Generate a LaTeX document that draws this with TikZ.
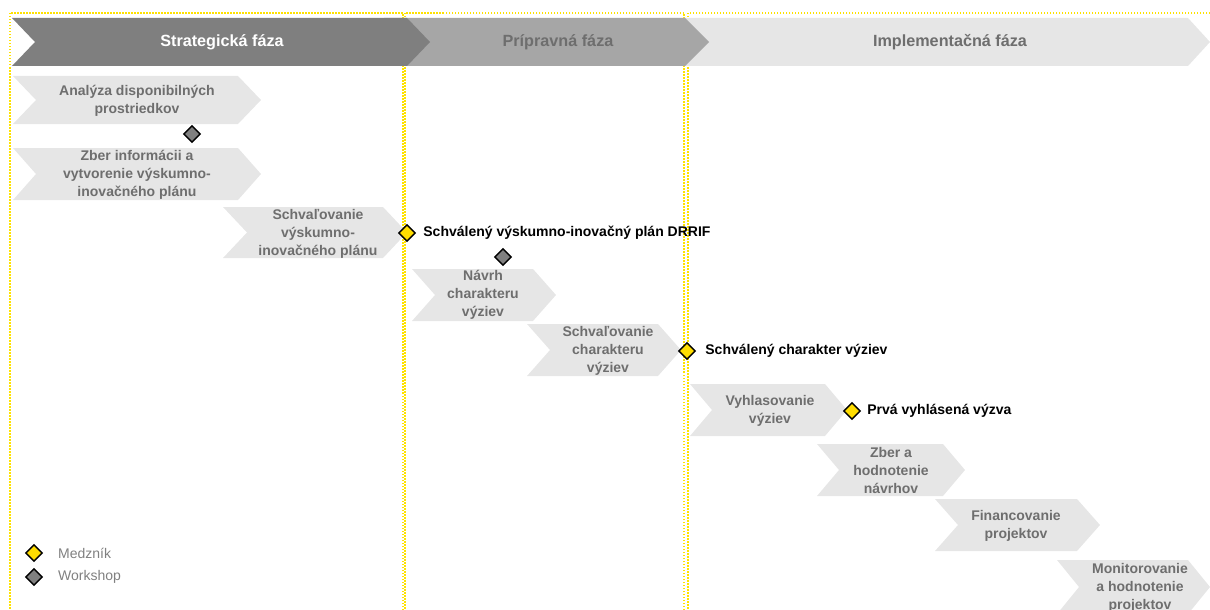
\documentclass[tikz,border=0pt]{standalone}
\usepackage{fontspec}
\setmainfont{Liberation Sans}
\usepackage{tikz}
\usetikzlibrary{shapes.geometric, positioning}
\usepackage{xcolor}
\definecolor{phasedark}{RGB}{127, 127, 127}
\definecolor{phasemid}{RGB}{166, 166, 166}
\definecolor{phaselight}{RGB}{230, 230, 230}
\definecolor{tasktext}{RGB}{110, 110, 110}
\definecolor{framegold}{RGB}{255, 226, 0}
\definecolor{milestoneyellow}{RGB}{255, 221, 0}
\definecolor{workshopgray}{RGB}{128, 128, 128}
\definecolor{legendtext}{RGB}{128, 128, 128}

% chevron: left, top, body right, bottom, tip depth, fill colour
\newcommand{\chevron}[6]{%
  \fill[#6] (#1,#2) -- (#3,#2) -- ({#3+#5},{(#2+#4)/2}) -- (#3,#4) -- (#1,#4) -- ({#1+#5},{(#2+#4)/2}) -- cycle;}

\begin{document}
\begin{tikzpicture}[x=1pt, y=-1pt,
  phase/.style={font=\fontsize{16.2}{19}\selectfont\bfseries, inner sep=0},
  task/.style={font=\fontsize{14}{18}\selectfont\bfseries, text=tasktext, align=center, inner sep=0},
  milestone/.style={diamond, draw=black, line width=1.4pt, fill=milestoneyellow, minimum width=17pt, minimum height=17pt, inner sep=0},
  workshop/.style={milestone, fill=workshopgray},
  mlabel/.style={font=\fontsize{14}{16}\selectfont\bfseries, anchor=west, inner sep=0},
  legend/.style={font=\fontsize{14}{16}\selectfont, text=legendtext, anchor=west, inner sep=0},
  frame/.style={framegold, line width=1.5pt, dash pattern=on 1.5pt off 1.5pt}]

  \useasboundingbox (0,0) rectangle (1210,610);

  % Phase frames
  \draw[frame] (10,13) rectangle (403,625);
  \draw[frame] (405,13) rectangle (684,625);
  \draw[frame] (688,13) rectangle (1225,625);

  % Phase chevrons
  \chevron{662}{18}{1188}{66}{22}{phaselight}
  \chevron{384}{18}{685}{66}{24}{phasemid}
  \chevron{12}{18}{407}{66}{23}{phasedark}
  \node[phase, text=white] (strat) at (222,42) {Strategická fáza};
  \node[phase, text=tasktext] (prip) at (558,42) {Prípravná fáza};
  \node[phase, text=tasktext] (impl) at (950,42) {Implementačná fáza};

  % Strategic phase tasks
  \chevron{13}{76}{238}{124}{23}{phaselight}
  \node[task] (analyza) at (137,101) {Analýza disponibilných\\prostriedkov};
  \node[workshop] (w1) at (192,134) {};
  \chevron{13}{148}{238}{200}{23}{phaselight}
  \node[task] (zber) at (137,175) {Zber informácii a\\vytvorenie výskumno-\\inovačného plánu};
  \chevron{223}{207}{383}{258}{24}{phaselight}
  \node[task] (schvPlan) at (318,234) {Schvaľovanie\\výskumno-\\inovačného plánu};
  \node[milestone] (mPlan) at (407,233) {};
  \node[mlabel, right=7pt of mPlan] (lPlan) {Schválený výskumno-inovačný plán DRRIF};

  % Preparation phase tasks
  \node[workshop] (w2) at (503,257) {};
  \chevron{412}{269}{533}{321}{23}{phaselight}
  \node[task] (navrh) at (483,295) {Návrh\\charakteru\\výziev};
  \chevron{527}{324}{658}{376}{23}{phaselight}
  \node[task] (schvChar) at (608,351) {Schvaľovanie\\charakteru\\výziev};
  \node[milestone] (mChar) at (687,351) {};
  \node[mlabel, right=9pt of mChar] (lChar) {Schválený charakter výziev};

  % Implementation phase tasks
  \chevron{690}{384}{825}{436}{22}{phaselight}
  \node[task] (vyhl) at (770,411) {Vyhlasovanie\\výziev};
  \node[milestone] (mVyzva) at (852,411) {};
  \node[mlabel, right=6pt of mVyzva] (lVyzva) {Prvá vyhlásená výzva};
  \chevron{817}{444}{943}{496}{22}{phaselight}
  \node[task] (zberNavrh) at (891,470) {Zber a\\hodnotenie\\návrhov};
  \chevron{935}{499}{1077}{551}{23}{phaselight}
  \node[task] (fin) at (1016,526) {Financovanie\\projektov};
  \chevron{1057}{560}{1188}{614}{22}{phaselight}
  \node[task] (monit) at (1140,588) {Monitorovanie\\a hodnotenie\\projektov};

  % Legend
  \node[milestone] (legM) at (34,553) {};
  \node[legend] (legMtext) at (58,553) {Medzník};
  \node[workshop] (legW) at (34,577) {};
  \node[legend] (legWtext) at (58,577) {Workshop};

\end{tikzpicture}
\end{document}
